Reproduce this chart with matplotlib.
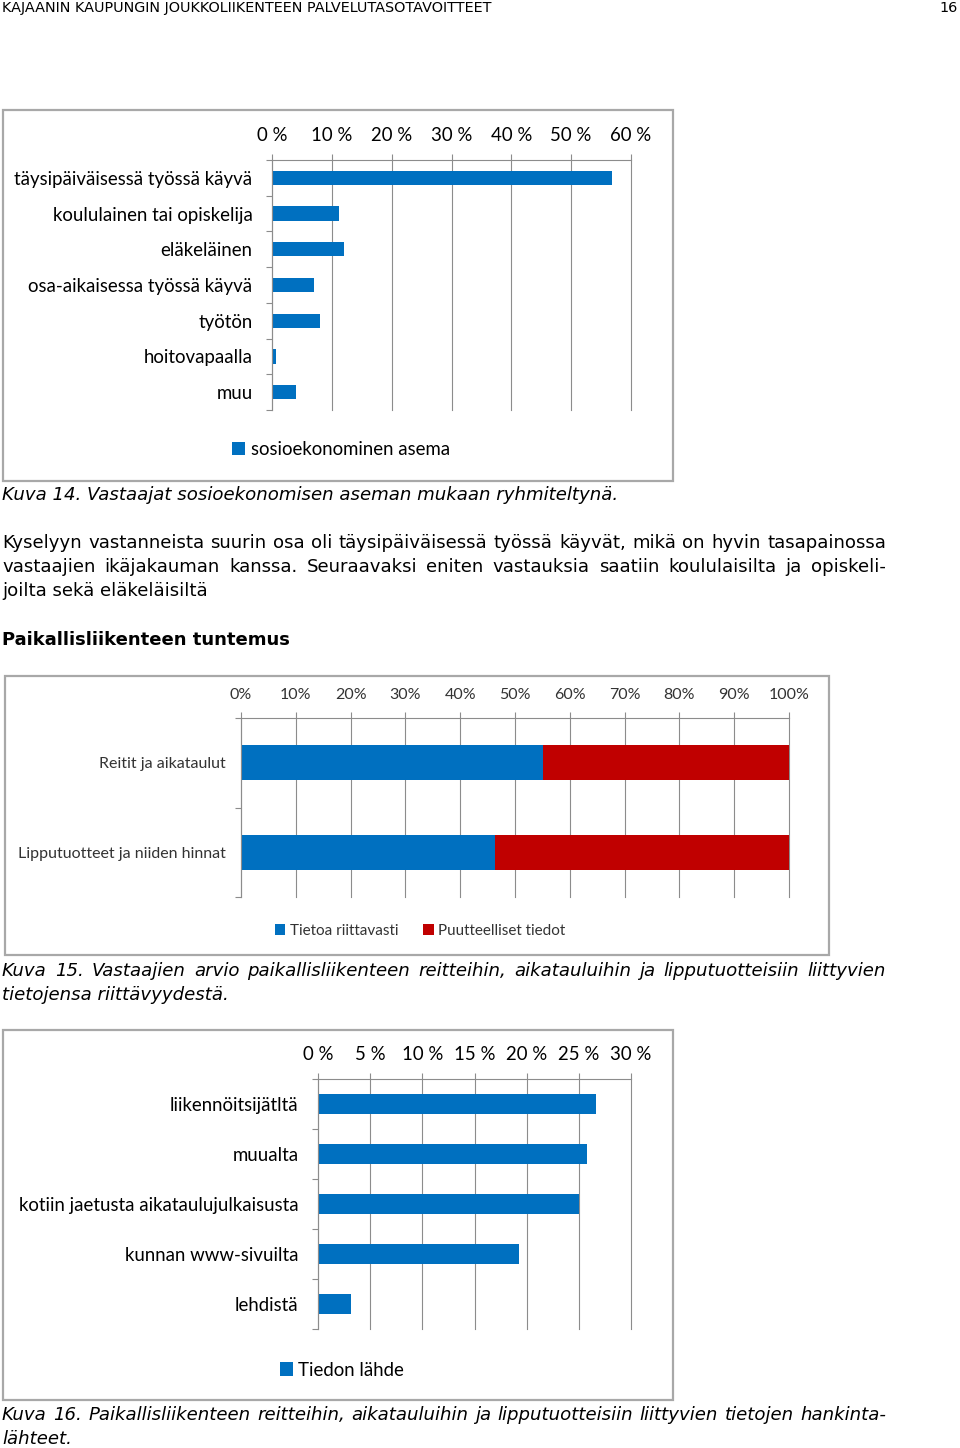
import matplotlib.pyplot as plt
from matplotlib.patches import Rectangle

W, H = 960, 1448
BLUE = "#0070C0"
RED = "#C00000"
GRID = "#8c8c8c"

# Kuva 14
asema = ["täysipäiväisessä työssä käyvä", "koululainen tai opiskelija", "eläkeläinen",
         "osa-aikaisessa työssä käyvä", "työtön", "hoitovapaalla", "muu"]
asema_pct = [56.8, 11.2, 12.0, 7.1, 8.0, 0.7, 4.0]

# Kuva 15
tuntemus = ["Reitit ja aikataulut", "Lipputuotteet ja niiden hinnat"]
tietoa_ok = [55.1, 46.3]
puutteelliset = [44.9, 53.7]

# Kuva 16
lahteet = ["liikennöitsijätltä", "muualta", "kotiin jaetusta aikataulujulkaisusta",
           "kunnan www-sivuilta", "lehdistä"]
lahde_pct = [26.6, 25.8, 25.0, 19.3, 3.2]

BODY = 13.1

fig = plt.figure(figsize=(W / 100, H / 100), dpi=100)


def rect(x0, y0, x1, y1):
    return [x0 / W, 1 - y1 / H, (x1 - x0) / W, (y1 - y0) / H]


def ftext(x, y, s, **kw):
    kw.setdefault("va", "center")
    kw.setdefault("family", "DejaVu Sans")
    return fig.text(x / W, 1 - y / H, s, **kw)


def justify(x0, x1, y, s, **kw):
    words = s.split(" ")
    r = fig.canvas.get_renderer()
    arts = [ftext(0, y, w, **kw) for w in words]
    widths = [a.get_window_extent(r).width for a in arts]
    gap = (x1 - x0 - sum(widths)) / (len(words) - 1)
    x = x0
    for a, w in zip(arts, widths):
        a.set_x(x / W)
        x += w + gap


def box(x0, y0, x1, y1):
    fig.patches.append(Rectangle((x0 / W, 1 - y1 / H), (x1 - x0) / W, (y1 - y0) / H,
                                 transform=fig.transFigure, fill=False,
                                 edgecolor="#a8a8a8", lw=1.6))


def style_axes(ax, labels, xmax, step, fs, fam, tcol, ticklabel, ypad):
    n = len(labels)
    ax.set_xlim(0, xmax)
    ax.set_ylim(n - 0.5, -0.5)
    ax.xaxis.tick_top()
    ticks = list(range(0, xmax + 1, step))
    ax.set_xticks(ticks)
    ax.set_xticklabels([ticklabel(t) for t in ticks], fontsize=fs, family=fam, color=tcol)
    ax.tick_params(axis="x", length=4.5, width=0.8, color=GRID, pad=7)
    ax.set_yticks(range(n))
    ax.set_yticklabels(labels, fontsize=fs, family=fam, color=tcol)
    ax.set_yticks([i - 0.5 for i in range(n + 1)], minor=True)
    ax.tick_params(axis="y", which="major", length=0, pad=ypad)
    ax.tick_params(axis="y", which="minor", length=4.5, width=0.8, color=GRID)
    ax.grid(axis="x", color=GRID, lw=0.8)
    for gl in ax.get_xgridlines():
        gl.set_clip_on(False)
    ax.set_axisbelow(True)
    for s in ["bottom", "right"]:
        ax.spines[s].set_visible(False)
    for s in ["top", "left"]:
        ax.spines[s].set_color(GRID)
        ax.spines[s].set_linewidth(0.8)


# header
ftext(2, 8, "KAJAANIN KAUPUNGIN JOUKKOLIIKENTEEN PALVELUTASOTAVOITTEET", fontsize=10.4)
ftext(958, 8, "16", fontsize=10.4, ha="right")

# chart 1
box(3, 110, 673, 481)
ax1 = fig.add_axes(rect(272, 160, 631, 410))
ax1.barh(range(len(asema)), asema_pct, height=0.4, color=BLUE, label="sosioekonominen asema")
style_axes(ax1, asema, 60, 10, 13.4, "Lato", "black", lambda t: f"{t} %", 14)
ax1.legend(loc="center", bbox_to_anchor=(341 / W, 1 - 450 / H), bbox_transform=fig.transFigure,
           frameon=False, handlelength=0.7, handleheight=0.7, handletextpad=0.3,
           prop={"family": "Lato", "size": 13.4})

ftext(2, 495, "Kuva 14. Vastaajat sosioekonomisen aseman mukaan ryhmiteltynä.",
      fontsize=BODY, style="italic")
justify(2, 886, 543, "Kyselyyn vastanneista suurin osa oli täysipäiväisessä työssä käyvät, mikä on hyvin tasapainossa",
        fontsize=BODY)
justify(2, 886, 567, "vastaajien ikäjakauman kanssa. Seuraavaksi eniten vastauksia saatiin koululaisilta ja opiskeli-",
        fontsize=BODY)
ftext(2, 591, "joilta sekä eläkeläisiltä", fontsize=BODY)
ftext(2, 640, "Paikallisliikenteen tuntemus", fontsize=13, weight="bold")

# chart 2
box(5, 676, 829, 955)
ax2 = fig.add_axes(rect(241, 718, 789, 897))
ax2.barh(range(2), tietoa_ok, height=0.39, color=BLUE, label="Tietoa riittavasti")
ax2.barh(range(2), puutteelliset, left=tietoa_ok, height=0.39, color=RED, label="Puutteelliset tiedot")
style_axes(ax2, tuntemus, 100, 10, 11.5, "Lato", "#333333", lambda t: f"{t}%", 11)
ax2.legend(loc="center", bbox_to_anchor=(420 / W, 1 - 931 / H), bbox_transform=fig.transFigure,
           frameon=False, ncol=2, handlelength=0.7, handleheight=0.7, handletextpad=0.3,
           columnspacing=1.6, prop={"family": "Lato", "size": 11}, labelcolor="#333333")

justify(2, 886, 971, "Kuva 15. Vastaajien arvio paikallisliikenteen reitteihin, aikatauluihin ja lipputuotteisiin liittyvien",
        fontsize=BODY, style="italic")
ftext(2, 995, "tietojensa riittävyydestä.", fontsize=BODY, style="italic")

# chart 3
box(3, 1030, 673, 1400)
ax3 = fig.add_axes(rect(318, 1079, 631, 1329))
ax3.barh(range(len(lahteet)), lahde_pct, height=0.4, color=BLUE, label="Tiedon lähde")
style_axes(ax3, lahteet, 30, 5, 13.4, "Lato", "black", lambda t: f"{t} %", 14)
ax3.legend(loc="center", bbox_to_anchor=(342 / W, 1 - 1370 / H), bbox_transform=fig.transFigure,
           frameon=False, handlelength=0.7, handleheight=0.7, handletextpad=0.3,
           prop={"family": "Lato", "size": 13.4})

justify(2, 886, 1415, "Kuva 16. Paikallisliikenteen reitteihin, aikatauluihin ja lipputuotteisiin liittyvien tietojen hankinta-",
        fontsize=BODY, style="italic")
ftext(2, 1439, "lähteet.", fontsize=BODY, style="italic")

fig.savefig("out.png", dpi=100)
